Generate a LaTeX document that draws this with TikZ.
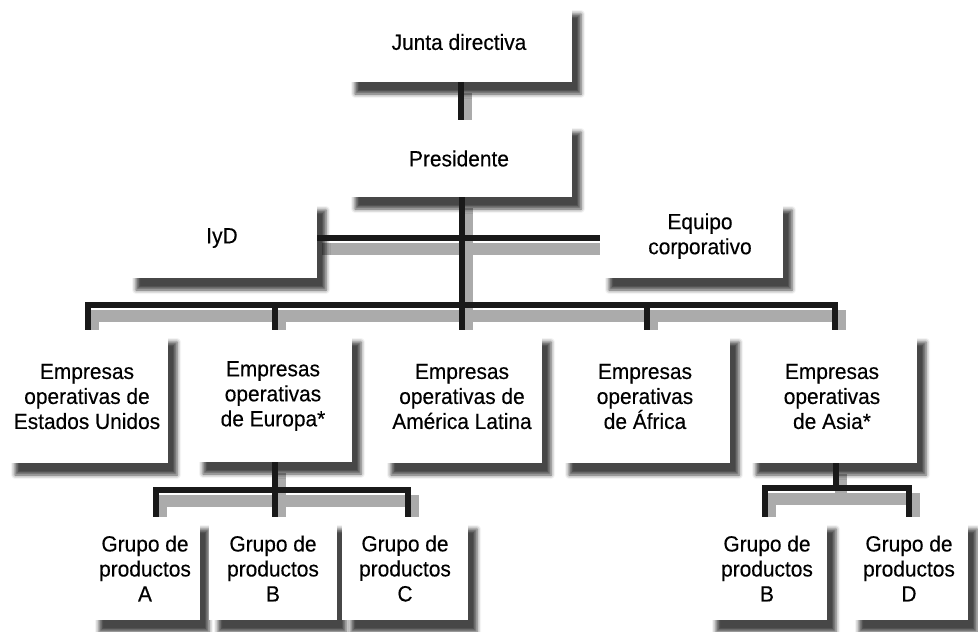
\documentclass[tikz,border=0pt]{standalone}
\usepackage{fontspec}
\setmainfont{Liberation Sans}[FakeStretch=0.95, FakeBold=0.3]
\usetikzlibrary{shadows.blur,calc}
\pgfdeclarelayer{bg}
\pgfsetlayers{bg,main}
\newcommand\cnx[1]{\begin{pgfonlayer}{bg}\draw[cshadow] #1;\end{pgfonlayer}\draw[conn] #1;}
\tikzset{
  box/.style={fill=white, inner sep=0pt, align=center,
    font=\fontsize{22}{25}\selectfont,
    blur shadow={shadow xshift=9pt, shadow yshift=-12pt, shadow blur radius=4pt, shadow opacity=72}},
  txt/.style={inner sep=0pt, align=center, font=\fontsize{22}{25}\selectfont},
  conn/.style={draw=black!90, line width=6.5pt, line join=miter},
  cshadow/.style={draw=black!33, line width=12pt, line join=miter,
    transform canvas={xshift=5pt, yshift=-11pt}}
}
\begin{document}
\begin{tikzpicture}[x=1pt, y=-1pt]
\useasboundingbox (0,0) rectangle (978,632);
% level 0/1
\node[box, minimum width=226pt, minimum height=80pt] (junta) at (459,42) {Junta directiva};
\node[box, minimum width=226pt, minimum height=77pt] (pres) at (459,158.5) {Presidente};
\node[box, minimum width=190pt, minimum height=80pt] (iyd) at (222,238) {IyD};
\node[box, minimum width=183pt, minimum height=80pt] (equipo) at (691.5,238) {};
\node[txt] (equipo-t) at (700,236) {Equipo\\corporativo};
% level 2
\node[box, minimum width=162pt, minimum height=133pt] (us) at (87,396.5) {Empresas\\operativas de\\Estados Unidos};
\node[box, minimum width=158pt, minimum height=132pt] (eu) at (273,396) {Empresas\\operativas\\de Europa*};
\node[box, minimum width=160pt, minimum height=133pt] (la) at (462,396.5) {Empresas\\operativas de\\América Latina};
\node[box, minimum width=170pt, minimum height=133pt] (af) at (645,396.5) {Empresas\\operativas\\de África};
\node[box, minimum width=170pt, minimum height=133pt] (as) at (832,396.5) {Empresas\\operativas\\de Asia*};
% level 3
\node[box, minimum width=110pt, minimum height=103pt] (ga) at (145,568.5) {Grupo de\\productos\\A};
\node[box, minimum width=128pt, minimum height=103pt] (gb) at (273,568.5) {Grupo de\\productos\\B};
\node[box, minimum width=126pt, minimum height=103pt] (gc) at (405,568.5) {Grupo de\\productos\\C};
\node[box, minimum width=120pt, minimum height=103pt] (gb2) at (767,568.5) {Grupo de\\productos\\B};
\node[box, minimum width=118pt, minimum height=103pt] (gd) at (909,568.5) {Grupo de\\productos\\D};
% connectors
\cnx{($(junta.south)+(2,0)$) -- ($(pres.north)+(2,0)$)}
\cnx{(la.north |- pres.south) -- (la.north)}
\cnx{(iyd.east) -- (equipo.west)}
\cnx{($(us.north)+(1,0)$) |- ($(as.north)+(3,-25)$) -- ($(as.north)+(3,0)$)}
\cnx{($(eu.north)+(2,0)$) -- ++(0,-25)}
\cnx{($(af.north)+(2,0)$) -- ++(0,-25)}
\cnx{($(ga.north)+(11,0)$) |- ($(gc.north)+(3,-27)$) -- ($(gc.north)+(3,0)$)}
\cnx{($(eu.south)+(2,0)$) -- ($(gb.north)+(2,0)$)}
\cnx{($(gb2.north)+(-2,0)$) |- ($(gd.north)+(0,-29)$) -- (gd.north)}
\cnx{($(as.south)+(4,0)$) -- ++(0,25)}
\end{tikzpicture}
\end{document}
